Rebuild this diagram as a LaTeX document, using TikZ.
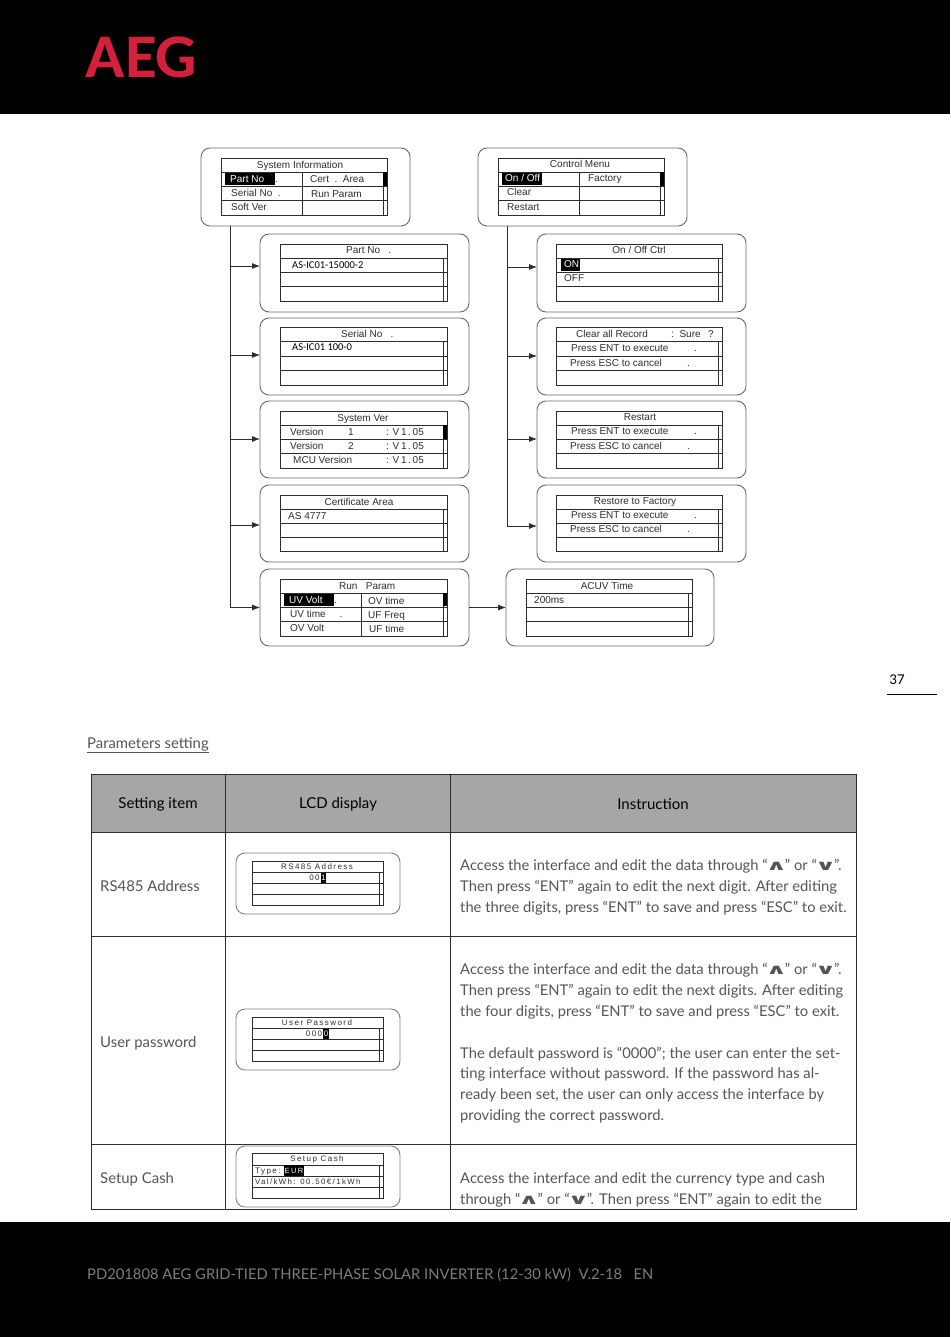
\documentclass[tikz,border=0pt]{standalone}
\usepackage{fontspec}
\usepackage{xcolor}
\usepackage{graphicx}
\usetikzlibrary{calc,arrows.meta,positioning}
\setmainfont{Lato}
\newfontfamily\lcdfont{Liberation Sans}
\newfontfamily\lcdwide[LetterSpace=18]{Liberation Sans}
\newfontfamily\valfont{Carlito}
\newfontfamily\keyfont{DejaVu Sans}
\definecolor{aegRed}{RGB}{213,32,60}
\definecolor{lcdgray}{RGB}{45,45,45}
\definecolor{panelgray}{RGB}{105,105,105}
\definecolor{bodygray}{RGB}{85,85,85}
\definecolor{headgray}{RGB}{166,166,166}
\definecolor{footgray}{RGB}{125,125,125}
\tikzset{
  panel/.style={draw=panelgray, line width=0.9pt, rounded corners=9pt, fill=white, inner sep=0pt, outer sep=0pt},
  lcdtext/.style={font=\lcdfont\fontsize{10}{12}\selectfont, text=lcdgray, inner sep=0pt, anchor=west, text height=9pt, text depth=2pt},
  lcdmid/.style={lcdtext, anchor=center},
  lcdinv/.style={lcdtext, text=white},
  lcdval/.style={font=\valfont\fontsize{10.5}{12}\selectfont, text=black, inner sep=0pt, anchor=west, text height=9pt, text depth=2pt},
  lcdsmall/.style={font=\lcdwide\fontsize{8}{10}\selectfont, text=lcdgray, inner sep=0pt, anchor=center, text height=6.5pt, text depth=1.5pt},
  branch/.style={draw=lcdgray, line width=0.8pt, -{Latex[length=8pt,width=6pt]}},
  tablehead/.style={font=\fontsize{15}{18}\selectfont, text=black, inner sep=0pt},
  itemtext/.style={font=\fontsize{14.9}{18}\selectfont, text=bodygray, inner sep=0pt, anchor=west},
  bodytext/.style={font=\fontsize{14.75}{20.8}\selectfont, text=bodygray, inner sep=0pt, anchor=north west, align=left},
}
% x1, top, x2, bottom, three row lines, scrollbar x
\newcommand{\lcdgrid}[8]{
  \draw[lcdgray, line width=0.9pt] (#1,#2) rectangle (#3,#4);
  \draw[lcdgray, line width=0.9pt] (#1,#5)--(#3,#5) (#1,#6)--(#3,#6) (#1,#7)--(#3,#7);
  \draw[lcdgray, line width=0.9pt] (#8,#5)--(#8,#4);
}
\newcommand{\upkey}{\hspace{-2.2pt}\raisebox{0pt}[0pt][0pt]{\scalebox{1.4}[0.75]{\keyfont\bfseries\fontsize{19}{20}\selectfont ∧}}\hspace{-2.2pt}}
\newcommand{\downkey}{\hspace{-2.2pt}\raisebox{0pt}[0pt][0pt]{\scalebox{1.4}[0.75]{\keyfont\bfseries\fontsize{19}{20}\selectfont ∨}}\hspace{-2.2pt}}

\begin{document}
\begin{tikzpicture}[x=1pt,y=-1pt]
\useasboundingbox (0,0) rectangle (950,1337);
\fill[white] (0,0) rectangle (950,1337);
% header and footer
\fill[black] (0,0) rectangle (950,114);
\fill[black] (0,1222) rectangle (950,1337);
\node[font=\valfont\bfseries\fontsize{62}{66}\selectfont, text=aegRed, inner sep=0pt, xscale=1.05, transform shape] (aegLogo) at (141.5,57) {AEG};
\node[font=\fontsize{14.75}{18}\selectfont, text=footgray, inner sep=0pt, anchor=west] (footLine) at (87,1275) {PD201808 AEG GRID-TIED THREE-PHASE SOLAR INVERTER (12-30 kW)\ \ V.2-18\ \ \ EN};
\node[font=\valfont\fontsize{15}{18}\selectfont, text=black, inner sep=0pt] (pageNum) at (897,680) {37};
\draw[black, line width=0.9pt] (887,694)--(937,694);

% left menu
\node[panel, minimum width=209pt, minimum height=78pt] (sysPanel) at (305.5,187) {};
\node[panel, minimum width=209pt, minimum height=78pt] (partPanel) at (364.5,273) {};
\node[panel, minimum width=209pt, minimum height=77pt] (serialPanel) at (364.5,356.5) {};
\node[panel, minimum width=209pt, minimum height=77pt] (verPanel) at (364.5,439.5) {};
\node[panel, minimum width=209pt, minimum height=77pt] (certPanel) at (364.5,523.5) {};
\node[panel, minimum width=209pt, minimum height=77pt] (runPanel) at (364.5,607.5) {};
\coordinate (sysTrunk) at (230,226);
\coordinate (partJoin) at (230,266);
\coordinate (serialJoin) at (230,355);
\coordinate (verJoin) at (230,439);
\coordinate (certJoin) at (230,525);
\draw[branch] (sysTrunk) |- (runPanel.west);
\draw[branch] (partJoin) -- (partJoin -| partPanel.west);
\draw[branch] (serialJoin) -- (serialJoin -| serialPanel.west);
\draw[branch] (verJoin) -- (verJoin -| verPanel.west);
\draw[branch] (certJoin) -- (certJoin -| certPanel.west);

\lcdgrid{221}{158}{387}{215}{172}{186}{200}{383}
\draw[lcdgray, line width=0.9pt] (302,172)--(302,215);
\fill[black] (383,172) rectangle (387,186);
\fill[black] (225,173) rectangle (275,185);
\node[lcdmid] (sysTitle) at (300,165) {System Information};
\node[lcdinv] (sysPart) at (230,179) {Part No};
\node[lcdtext] (sysPartDot) at (275,179) {.};
\node[lcdtext] (sysCert) at (310,179) {Cert\ \ .\ \ Area};
\node[lcdtext] (sysSerial) at (231,193) {Serial No\ \ .};
\node[lcdtext] (sysRun) at (311,194) {Run Param};
\node[lcdtext] (sysSoft) at (231,207) {Soft Ver};

\lcdgrid{280}{244}{447}{301}{258}{272}{286}{443}
\node[lcdtext] (partTitle) at (346,250.5) {Part No\ \ \ .};
\node[lcdval] (partVal) at (292,265) {AS-IC01-15000-2};

\lcdgrid{280}{327}{447}{385}{341}{356}{370}{443}
\node[lcdtext] (serialTitle) at (341,334) {Serial No\ \ \ .};
\node[lcdval] (serialVal) at (292,347) {AS-IC01 100-0};

\lcdgrid{280}{411}{447}{468}{425}{439}{453}{443}
\fill[black] (443,425) rectangle (447,439);
\node[lcdmid] (verTitle) at (363,418) {System Ver};
\node[lcdtext] (verOne) at (290,432) {Version};
\node[lcdtext] (verOneNo) at (348,432) {1};
\node[lcdtext] (verOneVal) at (386,432) {: V\,1\,.\,05};
\node[lcdtext] (verTwo) at (290,446) {Version};
\node[lcdtext] (verTwoNo) at (348,446) {2};
\node[lcdtext] (verTwoVal) at (386,446) {: V\,1\,.\,05};
\node[lcdtext] (verMcu) at (293,460) {MCU Version};
\node[lcdtext] (verMcuVal) at (386,460) {: V\,1\,.\,05};

\lcdgrid{280}{495}{447}{551}{509}{523}{537}{443}
\node[lcdmid] (certTitle) at (359,501.5) {Certificate Area};
\node[lcdtext] (certVal) at (288,515.5) {AS 4777};

\lcdgrid{280}{579}{447}{636}{593}{607}{621}{443}
\draw[lcdgray, line width=0.9pt] (361,593)--(361,636);
\fill[black] (443,593) rectangle (447,606);
\fill[black] (284,594) rectangle (334,606);
\node[lcdtext] (runTitle) at (339,585.5) {Run\ \ \ Param};
\node[lcdinv] (runUvVolt) at (289,599.5) {UV Volt};
\node[lcdtext] (runUvDot) at (334,600) {.};
\node[lcdtext] (runOvTime) at (368,601) {OV time};
\node[lcdtext] (runUvTime) at (290,614) {UV time\ \ \ \ \ .};
\node[lcdtext] (runUfFreq) at (368,614.5) {UF Freq};
\node[lcdtext] (runOvVolt) at (290,628) {OV Volt};
\node[lcdtext] (runUfTime) at (369,628.5) {UF time};

% right menu
\node[panel, minimum width=209pt, minimum height=78pt] (ctrlPanel) at (582.5,187) {};
\node[panel, minimum width=209pt, minimum height=78pt] (onoffPanel) at (641.5,273) {};
\node[panel, minimum width=209pt, minimum height=77pt] (clearPanel) at (641.5,356.5) {};
\node[panel, minimum width=209pt, minimum height=77pt] (restartPanel) at (641.5,439.5) {};
\node[panel, minimum width=209pt, minimum height=77pt] (factoryPanel) at (641.5,523.5) {};
\node[panel, minimum width=208pt, minimum height=77pt] (acuvPanel) at (610,607.5) {};
\coordinate (ctrlTrunk) at (507,226);
\coordinate (onoffJoin) at (507,267);
\coordinate (clearJoin) at (507,356);
\coordinate (restartJoin) at (507,439);
\coordinate (factoryJoin) at (537,526);
\draw[branch] (ctrlTrunk) |- (factoryJoin);
\draw[branch] (onoffJoin) -- (onoffJoin -| onoffPanel.west);
\draw[branch] (clearJoin) -- (clearJoin -| clearPanel.west);
\draw[branch] (restartJoin) -- (restartJoin -| restartPanel.west);
\draw[branch] (runPanel.east) -- (acuvPanel.west);

\lcdgrid{498}{158}{664}{215}{172}{186}{200}{660}
\draw[lcdgray, line width=0.9pt] (579,172)--(579,215);
\fill[black] (660,172) rectangle (664,186);
\fill[black] (502,173) rectangle (542,185);
\node[lcdmid] (ctrlTitle) at (580,164.5) {Control Menu};
\node[lcdinv] (ctrlOnoff) at (505,178.5) {On / Off};
\node[lcdtext] (ctrlFactory) at (588,178.5) {Factory};
\node[lcdtext] (ctrlClear) at (507,192.5) {Clear};
\node[lcdtext] (ctrlRestart) at (507,207) {Restart};

\lcdgrid{556}{244}{722}{301}{258}{272}{286}{718}
\fill[black] (561,259) rectangle (580,271);
\node[lcdmid] (onoffTitle) at (639,250.5) {On / Off Ctrl};
\node[lcdinv] (onoffOn) at (564,264.5) {ON};
\node[lcdtext] (onoffOff) at (564,278.5) {OFF};

\lcdgrid{556}{327}{722}{385}{341}{356}{370}{718}
\node[lcdtext] (clearTitle) at (576,334) {Clear all Record};
\node[lcdtext] (clearSure) at (671,334) {:\ \ Sure};
\node[lcdtext] (clearMark) at (708,334) {?};
\node[lcdtext] (clearEnt) at (571,348) {Press ENT to execute};
\node[lcdtext] (clearEntDot) at (694,348) {.};
\node[lcdtext] (clearEsc) at (570,362.5) {Press ESC to cancel};
\node[lcdtext] (clearEscDot) at (687,362.5) {.};

\lcdgrid{556}{411}{722}{468}{425}{439}{453}{718}
\node[lcdmid] (restartTitle) at (640,417) {Restart};
\node[lcdtext] (restartEnt) at (571,431) {Press ENT to execute};
\node[lcdtext] (restartEntDot) at (694,431) {.};
\node[lcdtext] (restartEsc) at (570,445.5) {Press ESC to cancel};
\node[lcdtext] (restartEscDot) at (687,445.5) {.};

\lcdgrid{556}{495}{722}{551}{509}{523}{537}{718}
\node[lcdmid] (factoryTitle) at (635,500.5) {Restore to Factory};
\node[lcdtext] (factoryEnt) at (571,514.5) {Press ENT to execute};
\node[lcdtext] (factoryEntDot) at (694,514.5) {.};
\node[lcdtext] (factoryEsc) at (570,529) {Press ESC to cancel};
\node[lcdtext] (factoryEscDot) at (687,529) {.};

\lcdgrid{526}{579}{692}{636}{593}{607}{621}{688}
\node[lcdmid] (acuvTitle) at (607,585.5) {ACUV Time};
\node[lcdtext] (acuvVal) at (534,599.5) {200ms};

% parameters table
\node[font=\fontsize{14.85}{18}\selectfont, text=bodygray, inner sep=0pt, anchor=west] (paramTitle) at (87,745) {\underline{Parameters setting}};
\fill[headgray] (91,774) rectangle (856,832);
\draw[lcdgray, line width=1pt] (91,1209)--(91,774)--(856,774)--(856,1209)--cycle;
\draw[lcdgray, line width=1pt] (225,774)--(225,1209) (450,774)--(450,1209);
\draw[lcdgray, line width=1pt] (91,832)--(856,832) (91,936)--(856,936) (91,1144)--(856,1144);
\node[tablehead] (headItem) at (158,804.5) {Setting item};
\node[tablehead] (headLcd) at (338,804.5) {LCD display};
\node[tablehead] (headInstr) at (653,804) {Instruction};
\node[itemtext] (itemAddr) at (100,886) {RS485 Address};
\node[itemtext] (itemPass) at (100,1043) {User password};
\node[itemtext] (itemCash) at (100,1179) {Setup Cash};

\node[panel, draw=gray, minimum width=164pt, minimum height=61pt] (addrPanel) at (318,883.5) {};
\lcdgrid{252}{861}{383}{905}{872}{883}{894}{379}
\fill[black] (321,873) rectangle (326,883);
\node[lcdsmall] (addrTitle) at (317,866.5) {RS485 Address};
\node[lcdsmall] (addrVal) at (314.5,877.5) {00};
\node[lcdsmall, text=white] (addrCur) at (323.5,877.5) {1};

\node[panel, draw=gray, minimum width=164pt, minimum height=61pt] (passPanel) at (318,1039.5) {};
\lcdgrid{252}{1017}{383}{1061}{1028}{1039}{1050}{379}
\fill[black] (323,1029) rectangle (329,1039);
\node[lcdsmall] (passTitle) at (317,1022.5) {User Password};
\node[lcdsmall] (passVal) at (314,1033.5) {000};
\node[lcdsmall, text=white] (passCur) at (326,1033.5) {0};

\node[panel, draw=gray, minimum width=164pt, minimum height=61pt] (cashPanel) at (318,1176.5) {};
\lcdgrid{252}{1153}{383}{1198}{1165}{1176}{1187}{379}
\fill[black] (284,1165) rectangle (304,1176);
\node[lcdsmall] (cashTitle) at (317,1158.5) {Setup Cash};
\node[lcdsmall, anchor=west] (cashType) at (255,1170.5) {Type:};
\node[lcdsmall, anchor=west, text=white, font=\lcdwide\fontsize{7.5}{10}\selectfont] (cashCur) at (284.5,1170.5) {EUR};
\node[lcdsmall, anchor=west, font=\lcdwide\fontsize{7.8}{10}\selectfont] (cashVal) at (255,1181.5) {Val/kWh: 00.50€/1kWh};

\node[bodytext] (instrAddr) at (460,859) {Access the interface and edit the data through “\upkey” or “\downkey”.\\
Then press “ENT” again to edit the next digit. After editing\\
the three digits, press “ENT” to save and press “ESC” to exit.};
\node[bodytext] (instrPass) at (460,963.5) {Access the interface and edit the data through “\upkey” or “\downkey”.\\
Then press “ENT” again to edit the next digits. After editing\\
the four digits, press “ENT” to save and press “ESC” to exit.\\[20.8pt]
The default password is “0000”; the user can enter the set-\\
ting interface without password. If the password has al-\\
ready been set, the user can only access the interface by\\
providing the correct password.};
\node[bodytext] (instrCash) at (460,1172.5) {Access the interface and edit the currency type and cash\\
through “\upkey” or “\downkey”. Then press “ENT” again to edit the};
\end{tikzpicture}
\end{document}
